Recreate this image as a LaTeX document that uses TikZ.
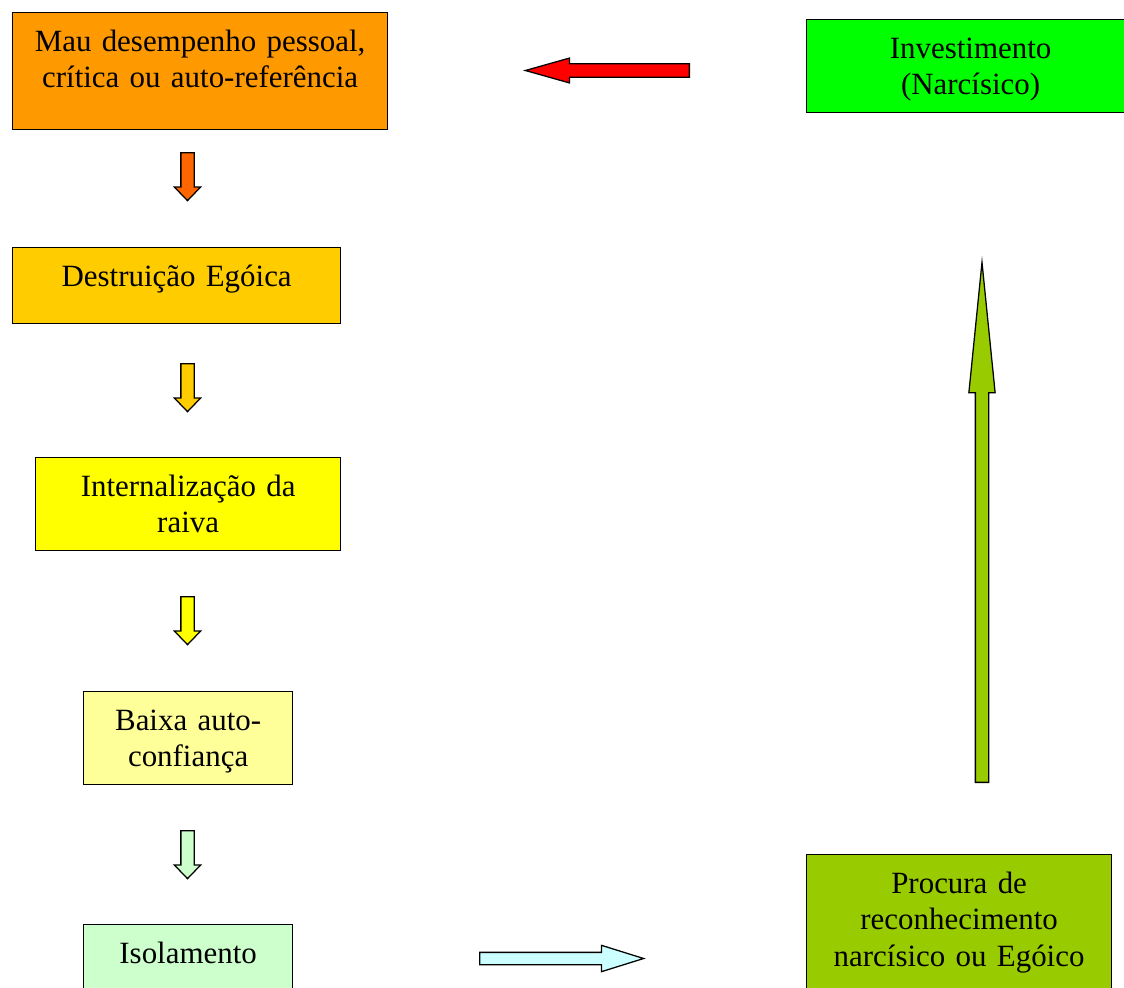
\documentclass[tikz,border=0pt]{standalone}
\usepackage{fontspec}
\setmainfont{Liberation Serif}
\usetikzlibrary{shapes.arrows, positioning}

\definecolor{boxorange}{RGB}{255,153,0}
\definecolor{boxgold}{RGB}{255,204,0}
\definecolor{boxyellow}{RGB}{255,255,0}
\definecolor{boxpale}{RGB}{255,255,153}
\definecolor{boxmint}{RGB}{204,255,204}
\definecolor{boxolive}{RGB}{153,204,0}
\definecolor{boxgreen}{RGB}{0,255,0}
\definecolor{arrdark}{RGB}{255,102,0}
\definecolor{arrcyan}{RGB}{204,255,255}

\begin{document}
\begin{tikzpicture}[
            stage/.style={rectangle, draw=black, line width=0.9pt,
                          anchor=north west, inner sep=0pt, align=center,
                          text height=0.9625cm,
                          font=\fontsize{22}{26}\selectfont},
            flow/.style={single arrow, draw=black, line width=0.9pt,
                         inner sep=0.15cm, minimum width=0pt, anchor=tail,
                         single arrow head indent=0pt,
                         single arrow head extend=0.1625cm},
            down/.style={flow, minimum height=1.2cm,
                         single arrow tip angle=88, shape border rotate=270}
        ]
            \useasboundingbox (0,0) rectangle (28.1,-24.7);
            \clip (0,0) rectangle (28.1,-24.7);

            \node[stage, fill=boxorange, text width=9.375cm, text depth=1.95cm] (mau) at (0.3,-0.3)
                {Mau desempenho pessoal,\\ crítica ou auto-referência};
            \node[stage, fill=boxgreen, text width=8.2cm, text depth=1.35cm] (invest) at (20.15,-0.475)
                {Investimento\\ (Narcísico)};
            \node[stage, fill=boxgold, text width=8.2cm, text depth=0.925cm] (destr) at (0.3,-6.175)
                {Destruição Egóica};
            \node[stage, fill=boxyellow, text width=7.625cm, text depth=1.35cm] (raiva) at (0.875,-11.425)
                {Internalização da\\ raiva};
            \node[stage, fill=boxpale, text width=5.225cm, text depth=1.35cm] (baixa) at (2.075,-17.275)
                {Baixa auto-\\ confiança};
            \node[stage, fill=boxmint, text width=5.225cm, text depth=1.425cm] (isol) at (2.075,-23.1)
                {Isolamento};
            \node[stage, fill=boxolive, text width=7.625cm, text depth=2.925cm] (procura) at (20.15,-21.35)
                {Procura de\\ reconhecimento\\ narcísico ou Egóico};

            \node[down, fill=arrdark] (d1) at (4.6875,-3.8) {};
            \node[down, fill=boxgold] (d2) at (4.6875,-9.075) {};
            \node[down, fill=boxyellow] (d3) at (4.6875,-14.9) {};
            \node[down, fill=boxmint] (d4) at (4.6875,-20.75) {};

            \node[flow, fill=arrcyan, minimum height=4.1cm, inner sep=0.1375cm,
                  single arrow head extend=0.175cm, single arrow tip angle=34.7] (toprocura) at (11.975,-23.9625) {};
            \node[flow, fill=boxolive, minimum height=13cm,
                  single arrow tip angle=11.5, shape border rotate=90] (toinvest) at (24.55,-19.575) {};
            \node[flow, fill=red, minimum height=4.1cm, inner sep=0.155cm,
                  single arrow head extend=0.141cm, single arrow tip angle=31.5,
                  shape border rotate=180] (tomau) at (17.25,-1.7625) {};
        \end{tikzpicture}
\end{document}
